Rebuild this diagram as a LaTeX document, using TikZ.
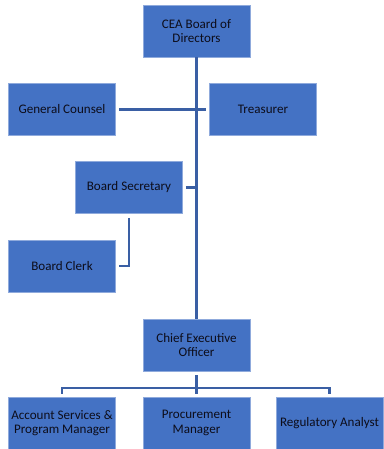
\documentclass[tikz,border=0pt]{standalone}
\usepackage{fontspec}
\setmainfont{Carlito}
\definecolor{boxfill}{HTML}{4472C4}
\definecolor{boxline}{HTML}{8FAADC}
\definecolor{linkblue}{HTML}{3A5FA4}
\definecolor{boxtext}{HTML}{0D0D1A}

\begin{document}
\begin{tikzpicture}[x=0.75pt,y=-0.75pt,
	role/.style={draw=boxline,line width=0.4pt,fill=boxfill,text=boxtext,
		minimum width=80.25pt,minimum height=39pt,align=center,
		inner sep=1pt,font=\fontsize{9.8}{10.8}\selectfont},
	link/.style={draw=linkblue,line width=2.1pt}]
	\useasboundingbox (0,0) rectangle (383,449);
	\node[role] (board) at (196.5,31) {CEA Board of\\Directors};
	\node[role] (counsel) at (62,109.5) {General Counsel};
	\node[role] (treasurer) at (263,109.5) {Treasurer};
	\node[role] (secretary) at (129,187.5) {Board Secretary};
	\node[role] (clerk) at (62,266) {Board Clerk};
	\node[role] (ceo) at (196.5,345) {Chief Executive\\Officer};
	\node[role] (account) at (62,423) {Account Services \&\\Program Manager};
	\node[role] (procure) at (196.5,423) {Procurement\\Manager};
	\node[role] (analyst) at (329.5,423) {Regulatory Analyst};
	\coordinate (split) at (196.5,388);
	\draw[link] (board.south) -- (ceo.north);
	\draw[link,shorten <=2.25pt,shorten >=2.25pt] (counsel.east) -- (treasurer.west);
	\draw[link,shorten <=2.25pt] (secretary.east) -- (secretary.east -| board.south);
	\draw[link,shorten <=3pt,shorten >=2.25pt] (secretary.south) |- (clerk.east);
	\draw[link,shorten <=3pt] (ceo.south) -- (split);
	\draw[link,shorten >=2.25pt] (split) -| (account.north);
	\draw[link,shorten >=2.25pt] (split) -- (procure.north);
	\draw[link,shorten >=2.25pt] (split) -| (analyst.north);
\end{tikzpicture}
\end{document}
